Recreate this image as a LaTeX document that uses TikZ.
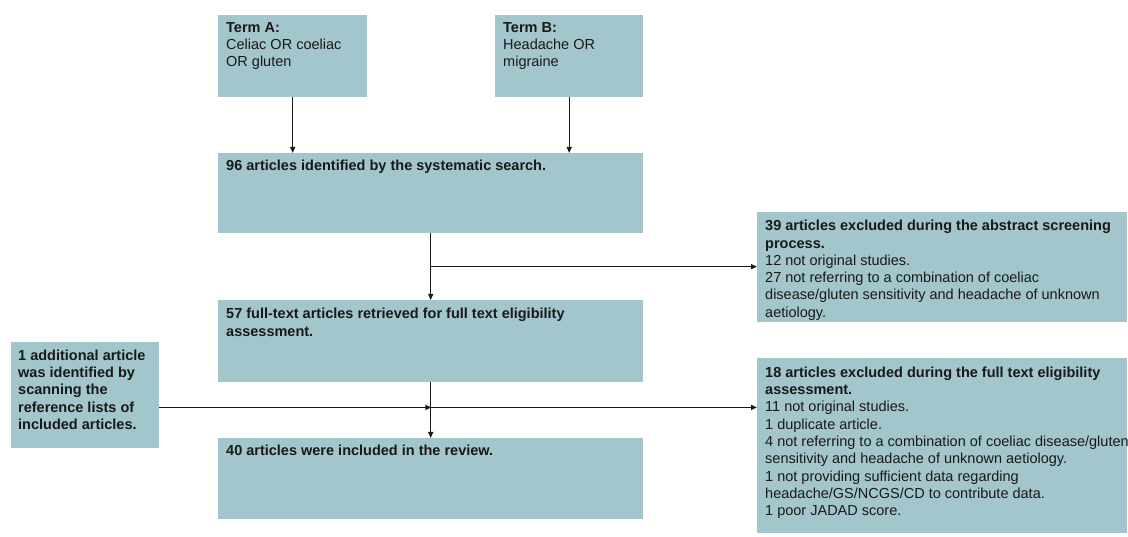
\documentclass[tikz,border=0pt]{standalone}
\usepackage{fontspec}
\setmainfont{Liberation Sans}
\usetikzlibrary{arrows.meta,decorations.markings,calc}
\definecolor{boxfill}{RGB}{163,198,204}
\definecolor{ink}{RGB}{25,25,25}
\begin{document}
\begin{tikzpicture}[x=1pt,y=-1pt,
  box/.style={draw=none,fill=boxfill,inner sep=0pt,anchor=north west},
  txt/.style={inner sep=0pt,anchor=north west,align=left,text=ink,font=\fontsize{14.5}{17.3}\selectfont},
  ttxt/.style={txt,font=\fontsize{14.5}{16.7}\selectfont},
  conn/.style={draw=ink,line width=1.2pt,-{Triangle[length=6pt,width=5pt]}}]
\useasboundingbox (0,0) rectangle (1128,537);
% boxes
\node[box,minimum width=149pt,minimum height=82pt] (tA) at (218,15) {};
\node[box,minimum width=148pt,minimum height=82pt] (tB) at (495,15) {};
\node[box,minimum width=425pt,minimum height=80pt] (b96) at (218,153) {};
\node[box,minimum width=370pt,minimum height=110pt] (b39) at (757,212) {};
\node[box,minimum width=425pt,minimum height=82pt] (b57) at (218,300) {};
\node[box,minimum width=148pt,minimum height=106pt] (lb) at (11,342) {};
\node[box,minimum width=370pt,minimum height=175pt] (b18) at (757,358) {};
\node[box,minimum width=425pt,minimum height=81pt] (b40) at (218,438) {};
% texts
\node[ttxt] (tAt) at (226,22.5) {\textbf{Term A:}\\Celiac OR coeliac\\OR gluten};
\node[ttxt] (tBt) at (503,22.5) {\textbf{Term B:}\\Headache OR\\migraine};
\node[txt] (t96) at (226,160) {\textbf{96 articles identified by the systematic search.}};
\node[txt] (t39) at (765,220) {\textbf{39 articles excluded during the abstract screening}\\\textbf{process.}\\12 not original studies.\\27 not referring to a combination of coeliac\\disease/gluten sensitivity and headache of unknown\\aetiology.};
\node[txt,font=\fontsize{14.5}{17.6}\selectfont] (t57) at (226,308) {\textbf{57 full-text articles retrieved for full text eligibility}\\\textbf{assessment.}};
\node[txt] (tlb) at (18,349.5) {\textbf{1 additional article}\\\textbf{was identified by}\\\textbf{scanning the}\\\textbf{reference lists of}\\\textbf{included articles.}};
\node[txt] (t18) at (765,366.5) {\textbf{18 articles excluded during the full text eligibility}\\\textbf{assessment.}\\11 not original studies.\\1 duplicate article.\\4 not referring to a combination of coeliac disease/gluten\\sensitivity and headache of unknown aetiology.\\1 not providing sufficient data regarding\\headache/GS/NCGS/CD to contribute data.\\1 poor JADAD score.};
\node[txt] (t40) at (226,444.5) {\textbf{40 articles were included in the review.}};
% connectors
\draw[conn] (tA.south) -- (tA.south |- b96.north);
\draw[conn] (tB.south) -- (tB.south |- b96.north);
\draw[conn] (b96.south) -- (b57.north);
\coordinate (j1) at ($(b96.south)!0.5!(b57.north)$);
\draw[conn] (j1) -- (j1 -| b39.west);
\draw[conn] (b57.south) -- (b40.north);
\coordinate (j2) at ($(b57.south)!0.45!(b40.north)$);
\draw[conn,postaction={decorate},decoration={markings,mark=at position 272pt with {\arrow{Triangle[length=6pt,width=5pt]}}}] (lb.east |- j2) -- (j2 -| b18.west);
\end{tikzpicture}
\end{document}
